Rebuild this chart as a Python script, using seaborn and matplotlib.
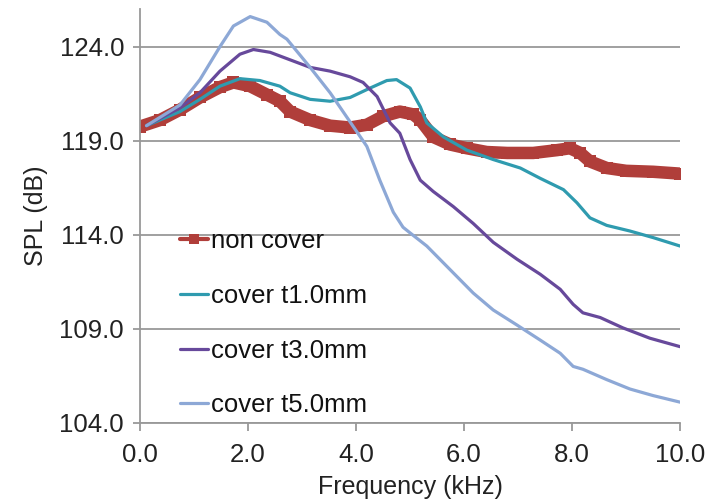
import matplotlib
matplotlib.use("Agg")
import matplotlib.pyplot as plt
import seaborn as sns
import pandas as pd

# frequency (kHz) / SPL (dB)
non_f = [0.0, 0.37, 0.74, 1.11, 1.48, 1.73, 2.04, 2.35, 2.59, 2.78, 3.15, 3.52, 3.89,
         4.2, 4.5, 4.81, 5.06, 5.19, 5.43, 5.74, 6.05, 6.42, 6.8, 7.28, 7.72, 7.96,
         8.15, 8.33, 8.64, 9.0, 9.5, 10.0]
non_spl = [119.75, 120.1, 120.65, 121.3, 121.85, 122.1, 121.9, 121.45, 121.1, 120.55,
           120.1, 119.8, 119.7, 119.85, 120.3, 120.55, 120.4, 120.1, 119.2, 118.8,
           118.6, 118.4, 118.35, 118.35, 118.5, 118.6, 118.35, 117.9, 117.55, 117.4,
           117.35, 117.25]

t1_f = [0.12, 0.74, 1.11, 1.48, 1.85, 2.22, 2.59, 2.78, 3.15, 3.52, 3.89, 4.26, 4.57,
        4.75, 5.0, 5.19, 5.31, 5.62, 6.05, 6.54, 7.04, 7.41, 7.84, 8.09, 8.33, 8.64,
        9.07, 9.5, 10.0]
t1_spl = [119.8, 120.55, 121.2, 121.9, 122.3, 122.2, 121.9, 121.55, 121.2, 121.1, 121.3,
          121.8, 122.2, 122.25, 121.8, 120.8, 119.95, 119.2, 118.5, 118.0, 117.55, 117.0,
          116.4, 115.7, 114.9, 114.5, 114.2, 113.85, 113.4]

t3_f = [0.12, 0.74, 1.11, 1.48, 1.85, 2.1, 2.41, 2.78, 3.15, 3.52, 3.89, 4.13, 4.39,
        4.63, 4.81, 5.0, 5.19, 5.43, 5.8, 6.17, 6.54, 6.98, 7.41, 7.78, 8.02, 8.2,
        8.52, 8.94, 9.44, 10.0]
t3_spl = [119.8, 120.75, 121.55, 122.7, 123.6, 123.85, 123.7, 123.3, 122.9, 122.7, 122.4,
          122.1, 121.35, 119.95, 119.4, 118.0, 116.9, 116.3, 115.5, 114.6, 113.6, 112.7,
          111.9, 111.1, 110.3, 109.85, 109.6, 109.05, 108.5, 108.05]

t5_f = [0.12, 0.74, 1.11, 1.48, 1.73, 2.04, 2.35, 2.59, 2.72, 3.15, 3.52, 3.89, 4.2,
        4.44, 4.69, 4.87, 5.0, 5.31, 5.74, 6.17, 6.54, 6.98, 7.41, 7.78, 8.02, 8.2,
        8.64, 9.07, 9.5, 10.0]
t5_spl = [119.8, 120.9, 122.25, 124.0, 125.1, 125.6, 125.3, 124.65, 124.4, 122.9, 121.55,
          120.0, 118.7, 116.9, 115.2, 114.4, 114.1, 113.4, 112.15, 110.9, 110.0, 109.2,
          108.4, 107.7, 107.0, 106.85, 106.3, 105.8, 105.45, 105.1]

names = ["non cover", "cover t1.0mm", "cover t3.0mm", "cover t5.0mm"]
colors = ["#B03E3A", "#2F9BAF", "#67499B", "#8DA8D6"]

sns.set_style("white")
plt.rcParams["font.family"] = ["Liberation Sans", "DejaVu Sans"]

fig = plt.figure(figsize=(7.07, 5.04), dpi=100)
ax = fig.add_axes([0.198, 0.161, 0.764, 0.821])

df = pd.DataFrame({"f": non_f, "spl": non_spl})
sns.lineplot(data=df, x="f", y="spl", ax=ax, color=colors[0], lw=9, marker="s",
             markersize=8.5, markeredgewidth=0, label=names[0])
for fs, ss, name, c in zip([t1_f, t3_f, t5_f], [t1_spl, t3_spl, t5_spl], names[1:], colors[1:]):
    d = pd.DataFrame({"f": fs, "spl": ss})
    sns.lineplot(data=d, x="f", y="spl", ax=ax, color=c, lw=2.3, label=name)

ax.set_xlim(0, 10)
ax.set_ylim(104, 126)
ax.set_xticks([0, 2, 4, 6, 8, 10])
ax.set_xticklabels([f"{v:.1f}" for v in [0, 2, 4, 6, 8, 10]])
ax.set_yticks([104, 109, 114, 119, 124])
ax.set_yticklabels([f"{v:.1f}" for v in [104, 109, 114, 119, 124]])
ax.yaxis.grid(True, color="#999999", lw=1.3)
for s in ["top", "right"]:
    ax.spines[s].set_visible(False)
for s in ["left", "bottom"]:
    ax.spines[s].set_color("#999999")
    ax.spines[s].set_linewidth(1.3)
ax.tick_params(axis="both", labelsize=18.5, color="#999999", direction="out",
               width=1.3, left=True, bottom=True, labelcolor="#222222")
ax.tick_params(axis="y", length=5, pad=6.5)
ax.tick_params(axis="x", length=6, pad=8.5)
ax.set_xlabel("Frequency (kHz)", fontsize=18, labelpad=6, color="#222222")
ax.set_ylabel("SPL (dB)", fontsize=18, labelpad=8, color="#222222")

leg = ax.legend(loc="lower left", bbox_to_anchor=(0.045, -0.024), frameon=False, fontsize=18.5,
                handlelength=1.1, handletextpad=0.1, labelspacing=1.2, borderaxespad=0.2)
leg.legend_handles[0].set_linewidth(3)
leg.legend_handles[0].set_markersize(7)
for t in leg.get_texts():
    t.set_color("#111111")

fig.savefig("out.png", dpi=100)
